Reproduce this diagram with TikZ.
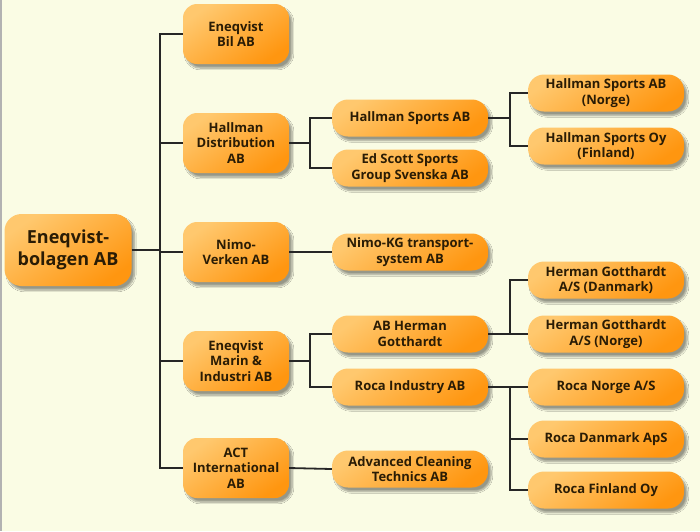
\documentclass[tikz,border=0pt]{standalone}
\usepackage{fontspec}
\setsansfont{Open Sans}
\usepackage{tikz}
\usetikzlibrary{positioning, shadows.blur}
\definecolor{bgCream}{HTML}{FAFCE4}
\definecolor{orgLight}{HTML}{FFC86E}
\definecolor{orgDark}{HTML}{FF9610}
\definecolor{inkBrown}{HTML}{2A1C05}
\tikzset{
    org_box/.style={
        rectangle, draw=none, top color=orgLight, bottom color=orgDark, shading angle=35,
        align=center, text=inkBrown, inner sep=0pt,
        font=\sffamily\bfseries\fontsize{13}{15.5}\selectfont,
        blur shadow={shadow xshift=3pt, shadow yshift=-4pt, shadow blur steps=8, shadow opacity=40}
    },
    box_root/.style={org_box, rounded corners=17pt, minimum width=127, minimum height=72,
        font=\sffamily\bfseries\fontsize{18}{22}\selectfont},
    box_lvl1/.style={org_box, rounded corners=14pt, minimum width=106, minimum height=60},
    box_lvl2/.style={org_box, rounded corners=16pt, minimum width=156, minimum height=37},
    tree_line/.style={draw=black!85, line width=1.8pt}
}
\begin{document}
\begin{tikzpicture}[x=1pt, y=-1pt]
    % background and frame
    \useasboundingbox (0,0) rectangle (700,531);
    \fill[bgCream] (0,0) rectangle (700,531);
    \fill[black!30] (0,0) rectangle (2,531);

    % group parent
    \node[box_root] (root) at (68,250) {Eneqvist-\\bolagen AB};

    % first level subsidiaries
    \node[box_lvl1] (bil)   at (236,34)  {Eneqvist\\Bil AB};
    \node[box_lvl1] (hdist) at (236,143) {Hallman\\Distribution\\AB};
    \node[box_lvl1] (nimo)  at (236,252) {Nimo-\\Verken AB};
    \node[box_lvl1] (marin) at (236,361) {Eneqvist\\Marin \&\\Industri AB};
    \node[box_lvl1] (act)   at (236,468) {ACT\\International\\AB};

    % second level
    \node[box_lvl2] (hsab)    at (410,118) {Hallman Sports AB};
    \node[box_lvl2] (edscott) at (410,168) {Ed Scott Sports\\Group Svenska AB};
    \node[box_lvl2] (nimokg)  at (410,252) {Nimo-KG transport-\\system AB};
    \node[box_lvl2] (herman)  at (410,334) {AB Herman\\Gotthardt};
    \node[box_lvl2] (roca)    at (410,387) {Roca Industry AB};
    \node[box_lvl2] (acl)     at (410,469) {Advanced Cleaning\\Technics AB};

    % third level
    \node[box_lvl2] (hsnorge) at (606,93)  {Hallman Sports AB\\(Norge)};
    \node[box_lvl2] (hsfin)   at (606,146) {Hallman Sports Oy\\(Finland)};
    \node[box_lvl2] (hgdk)    at (606,280) {Herman Gotthardt\\A/S (Danmark)};
    \node[box_lvl2] (hgno)    at (606,334) {Herman Gotthardt\\A/S (Norge)};
    \node[box_lvl2] (rocano)  at (606,387) {Roca Norge A/S};
    \node[box_lvl2] (rocadk)  at (606,439) {Roca Danmark ApS};
    \node[box_lvl2] (rocafi)  at (606,490) {Roca Finland Oy};

    % junction points
    \coordinate (trunk) at (160,250);
    \coordinate (jdist) at (310,143);
    \coordinate (jmarin) at (310,361);
    \coordinate (jhs) at (510,118);
    \coordinate (jherman) at (510,334);
    \coordinate (jroca) at (510,387);

    % trunk to first level
    \draw[tree_line] (root.east) -- (trunk);
    \foreach \c in {bil, hdist, nimo, marin, act}
        \draw[tree_line] (trunk) |- (\c.west);

    % first to second level
    \draw[tree_line] (hdist.east) -- (jdist);
    \draw[tree_line] (jdist) |- (hsab.west);
    \draw[tree_line] (jdist) |- (edscott.west);
    \draw[tree_line] (nimo.east) -- (nimokg.west);
    \draw[tree_line] (marin.east) -- (jmarin);
    \draw[tree_line] (jmarin) |- (herman.west);
    \draw[tree_line] (jmarin) |- (roca.west);
    \draw[tree_line] (act.east) -- (acl.west);

    % second to third level
    \draw[tree_line] (hsab.east) -- (jhs);
    \draw[tree_line] (jhs) |- (hsnorge.west);
    \draw[tree_line] (jhs) |- (hsfin.west);
    \draw[tree_line] (herman.east) -- (hgno.west);
    \draw[tree_line] (jherman) |- (hgdk.west);
    \draw[tree_line] (roca.east) -- (rocano.west);
    \draw[tree_line] (jroca) |- (rocadk.west);
    \draw[tree_line] (jroca) |- (rocafi.west);
\end{tikzpicture}
\end{document}
